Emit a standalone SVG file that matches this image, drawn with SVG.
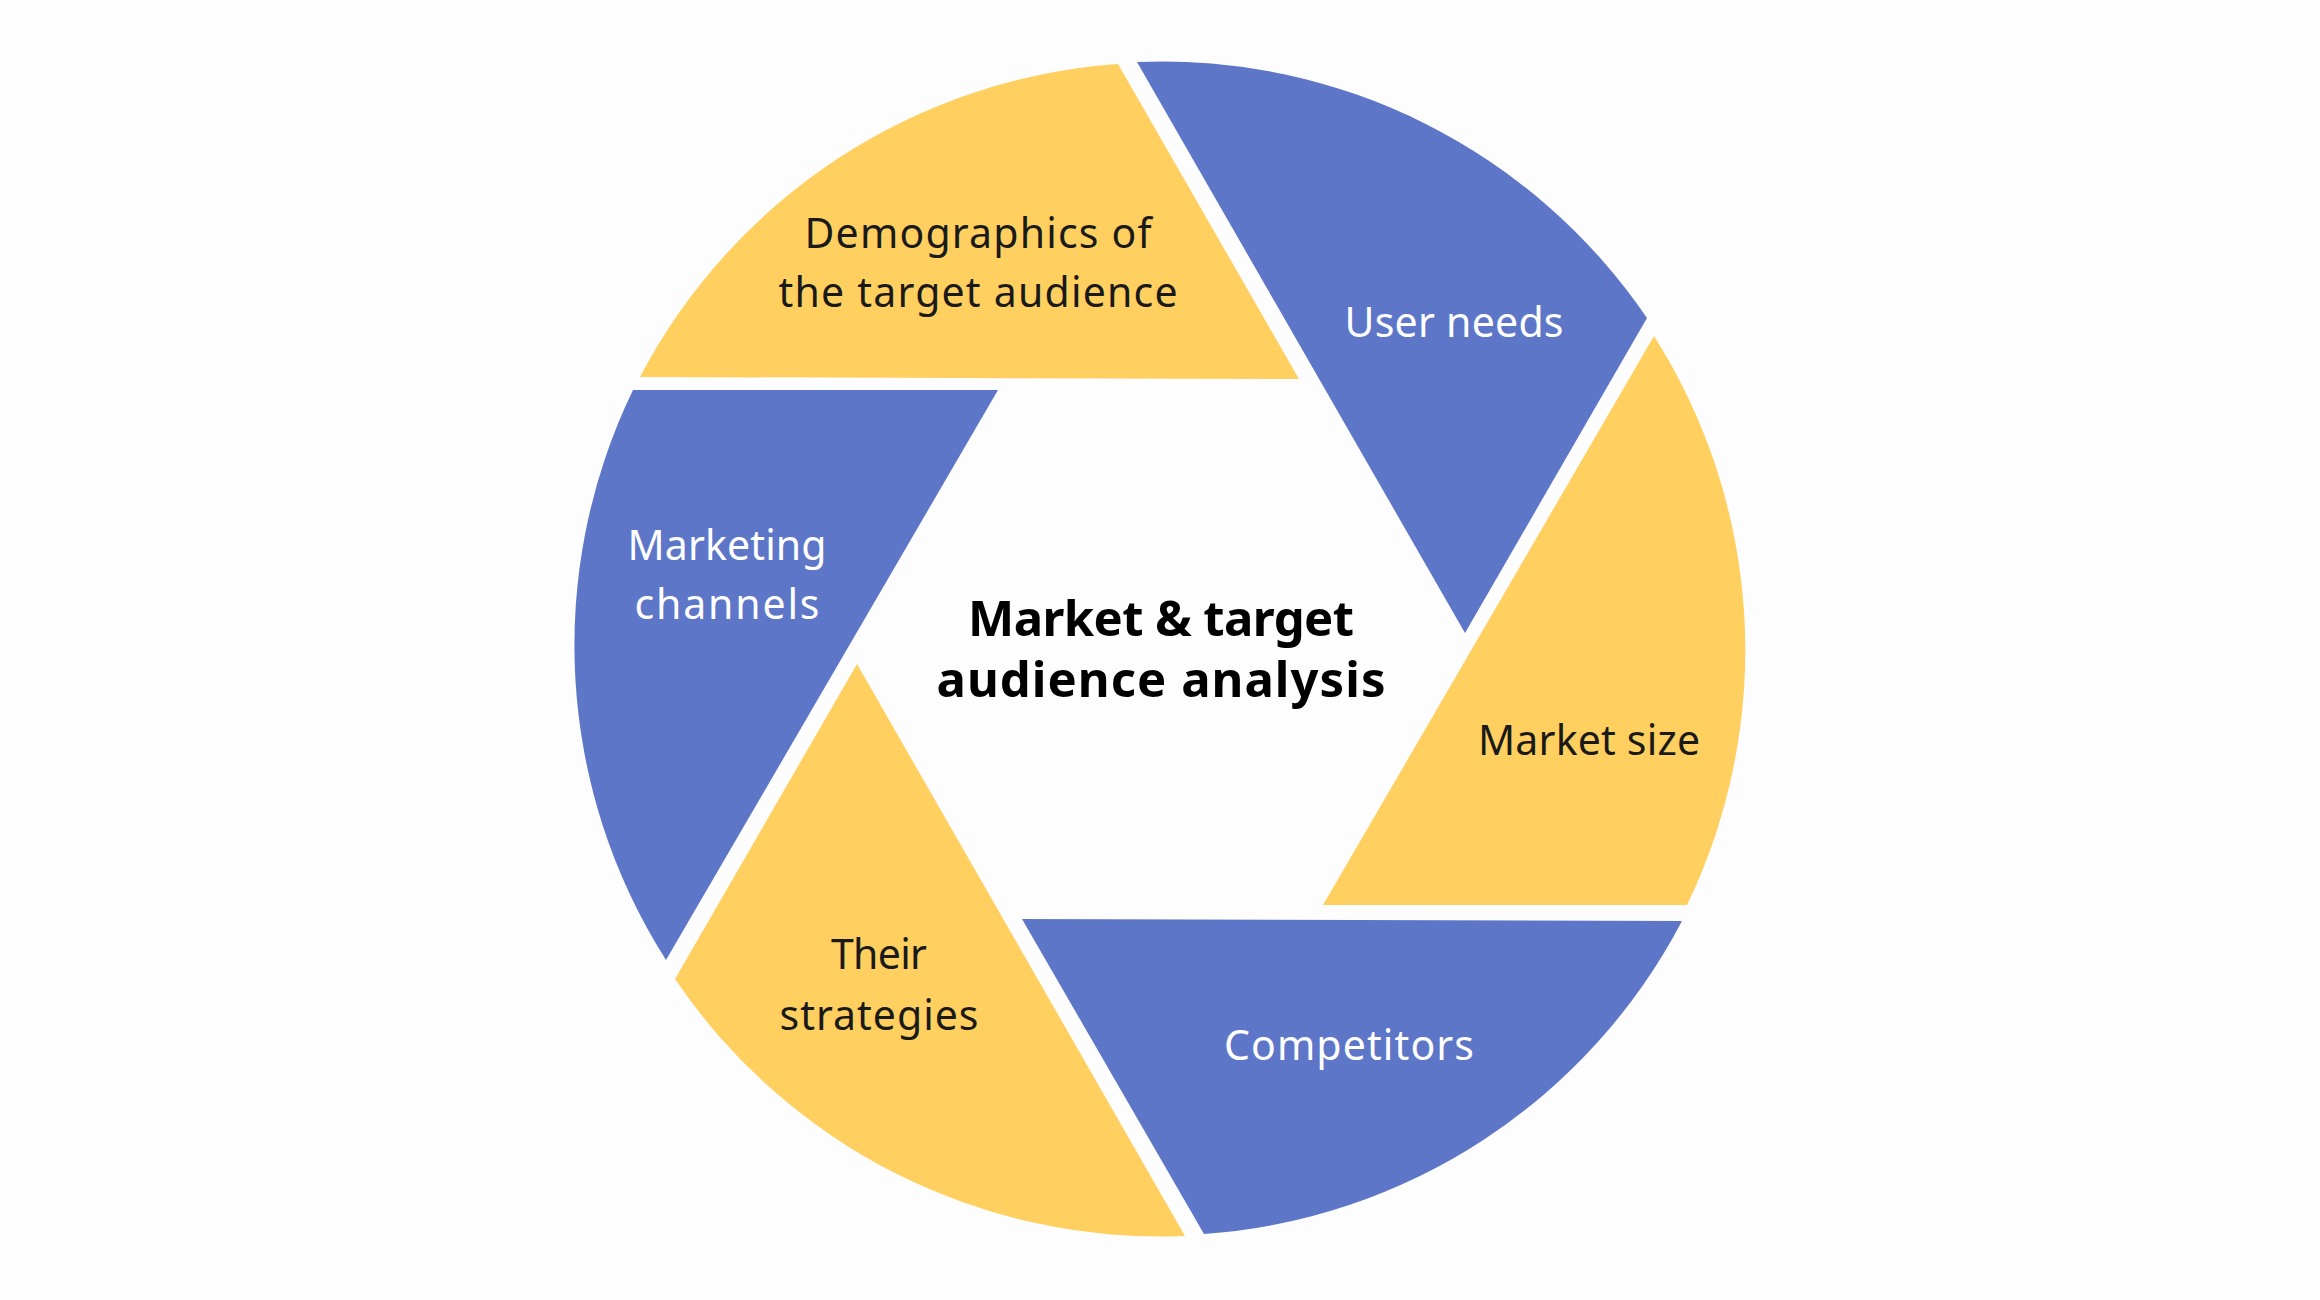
<svg xmlns="http://www.w3.org/2000/svg" width="2320" height="1300" viewBox="0 0 2320 1300">
<style>
.y{fill:#FFD060}
.b{fill:#5E76C8}
.lbl{font-family:"Noto Sans","Open Sans","Liberation Sans",sans-serif;font-size:41px;text-anchor:middle}
.dk{fill:#1A1A1A}
.wt{fill:#FFFFFF}
.title{font-family:"Noto Sans","Open Sans","Liberation Sans",sans-serif;font-size:49px;font-weight:700;text-anchor:middle;fill:#000000}
</style>
<rect x="0" y="0" width="2320" height="1300" fill="#FDFDFD"/>
<g id="connectors"></g>
<g id="node-demographics">
<path class="y" d="M 640 377 A 586 586 0 0 1 1118 64 L 1299 379 Z"/>
<text class="lbl dk" x="978" y="248" textLength="347">Demographics of</text>
<text class="lbl dk" x="978" y="307" textLength="399">the target audience</text>
</g>
<g id="node-user-needs">
<path class="b" d="M 1137 62 A 586 586 0 0 1 1647 318 L 1465 633 Z"/>
<text class="lbl wt" x="1454" y="337" textLength="219">User needs</text>
</g>
<g id="node-market-size">
<path class="y" d="M 1654 336 A 586 586 0 0 1 1687 905 L 1323 905 Z"/>
<text class="lbl dk" x="1589" y="755" textLength="222">Market size</text>
</g>
<g id="node-competitors">
<path class="b" d="M 1682 921 A 586 586 0 0 1 1204 1234 L 1022 919 Z"/>
<text class="lbl wt" x="1349" y="1060" textLength="250">Competitors</text>
</g>
<g id="node-strategies">
<path class="y" d="M 1185 1236 A 586 586 0 0 1 675 979 L 857 664 Z"/>
<text class="lbl dk" x="879" y="969" textLength="96">Their</text>
<text class="lbl dk" x="879" y="1030" textLength="199">strategies</text>
</g>
<g id="node-marketing-channels">
<path class="b" d="M 666 960 A 586 586 0 0 1 633 390 L 998 390 Z"/>
<text class="lbl wt" x="727" y="560" textLength="199">Marketing</text>
<text class="lbl wt" x="727" y="619" textLength="185">channels</text>
</g>
<g id="node-center">
<text class="title" x="1161" y="636" textLength="386">Market &amp; target</text>
<text class="title" x="1161" y="697" textLength="449">audience analysis</text>
</g>
</svg>
